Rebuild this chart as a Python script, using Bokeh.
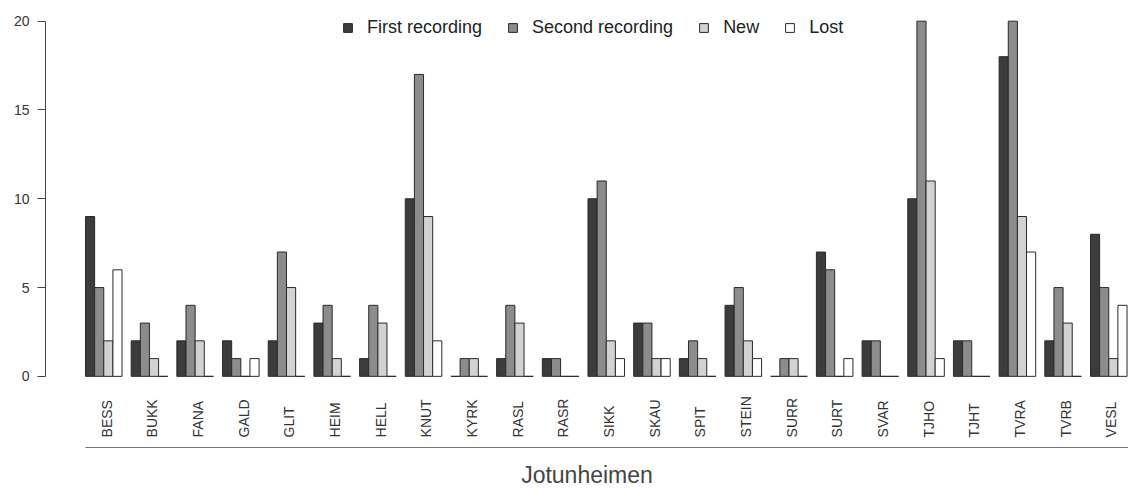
import math
from bokeh.plotting import figure
from bokeh.models import (ColumnDataSource, Legend, LegendItem, FixedTicker,
                          LabelSet)
from bokeh.core.properties import value
from bokeh.embed import file_html
from bokeh.resources import INLINE

sites = ["BESS", "BUKK", "FANA", "GALD", "GLIT", "HEIM", "HELL", "KNUT", "KYRK",
         "RASL", "RASR", "SIKK", "SKAU", "SPIT", "STEIN", "SURR", "SURT", "SVAR",
         "TJHO", "TJHT", "TVRA", "TVRB", "VESL"]
first_rec = [9, 2, 2, 2, 2, 3, 1, 10, 0, 1, 1, 10, 3, 1, 4, 0, 7, 2, 10, 2, 18, 2, 8]
second_rec = [5, 3, 4, 1, 7, 4, 4, 17, 1, 4, 1, 11, 3, 2, 5, 1, 6, 2, 20, 2, 20, 5, 5]
new_sp = [2, 1, 2, 0, 5, 1, 3, 9, 1, 3, 0, 2, 1, 1, 2, 1, 0, 0, 11, 0, 9, 3, 1]
lost_sp = [6, 0, 0, 1, 0, 0, 0, 2, 0, 0, 0, 1, 1, 0, 1, 0, 1, 0, 1, 0, 7, 0, 4]
series_names = ["First recording", "Second recording", "New", "Lost"]
y_ticks = [0, 5, 10, 15, 20]
group_title = "Jotunheimen"

series = [first_rec, second_rec, new_sp, lost_sp]
colors = ["#3c3c3c", "#8c8c8c", "#d2d2d2", "#ffffff"]

FONT = "Liberation Sans"

p = figure(width=1128, height=490, output_backend="svg", toolbar_location=None,
           x_range=(-3.378, 115.16), y_range=(-4.006, 20.713),
           min_border_left=45, min_border_right=0, min_border_top=8,
           min_border_bottom=42)
p.outline_line_color = None
p.xgrid.grid_line_color = None
p.ygrid.grid_line_color = None
p.background_fill_color = "white"

# bars: R-style beside barplot, bar width 1, one bar gap between groups
renderers = []
n = len(sites)
for j, (vals, col) in enumerate(zip(series, colors)):
    xs = [i * 5 + 1 + j + 0.5 for i in range(n)]
    src = ColumnDataSource(dict(x=xs, top=vals))
    r = p.vbar(x="x", top="top", bottom=0, width=1, source=src,
               fill_color=col, line_color="#2a2a2a", line_width=1)
    renderers.append(r)

# category labels (rotated, start-aligned)
lab_src = ColumnDataSource(dict(x=[i * 5 + 3.3 for i in range(n)],
                                y=[-3.44] * n, text=sites))
labels = LabelSet(x="x", y="y", text="text", source=lab_src, angle=math.pi / 2,
                  text_align="left", text_baseline="middle",
                  text_font=value(FONT), text_font_size=value("14px"),
                  text_color="#333333")
p.add_layout(labels)

# y axis
ya = p.yaxis[0]
ya.ticker = FixedTicker(ticks=y_ticks)
ya.bounds = (0, 20)
ya.major_tick_out = 8
ya.major_tick_in = 0
ya.minor_tick_line_color = None
ya.axis_line_color = "#444444"
ya.major_tick_line_color = "#444444"
ya.major_label_text_font = FONT
ya.major_label_text_font_size = "14px"
ya.major_label_text_color = "#333333"
ya.major_label_standoff = 8
ya.major_label_orientation = "horizontal"

# x axis: only a line and the group title
xa = p.xaxis[0]
xa.ticker = FixedTicker(ticks=[])
xa.bounds = (1, 116)
xa.major_tick_line_color = None
xa.minor_tick_line_color = None
xa.major_label_text_font_size = "0px"
xa.axis_line_color = "#777777"
xa.axis_label = group_title
xa.axis_label_text_font = FONT
xa.axis_label_text_font_style = "normal"
xa.axis_label_text_font_size = "23px"
xa.axis_label_text_color = "#444444"
xa.axis_label_standoff = 14

legend = Legend(items=[LegendItem(label=nm, renderers=[r])
                       for nm, r in zip(series_names, renderers)],
                orientation="horizontal", location=(297, 409),
                glyph_width=11, glyph_height=11, label_standoff=14, spacing=25,
                padding=0, margin=0, border_line_color=None,
                background_fill_alpha=0,
                label_text_font=FONT, label_text_font_size="18px",
                label_text_color="#222222")
p.add_layout(legend, "center")

open("out.html", "w").write(file_html(p, INLINE))
